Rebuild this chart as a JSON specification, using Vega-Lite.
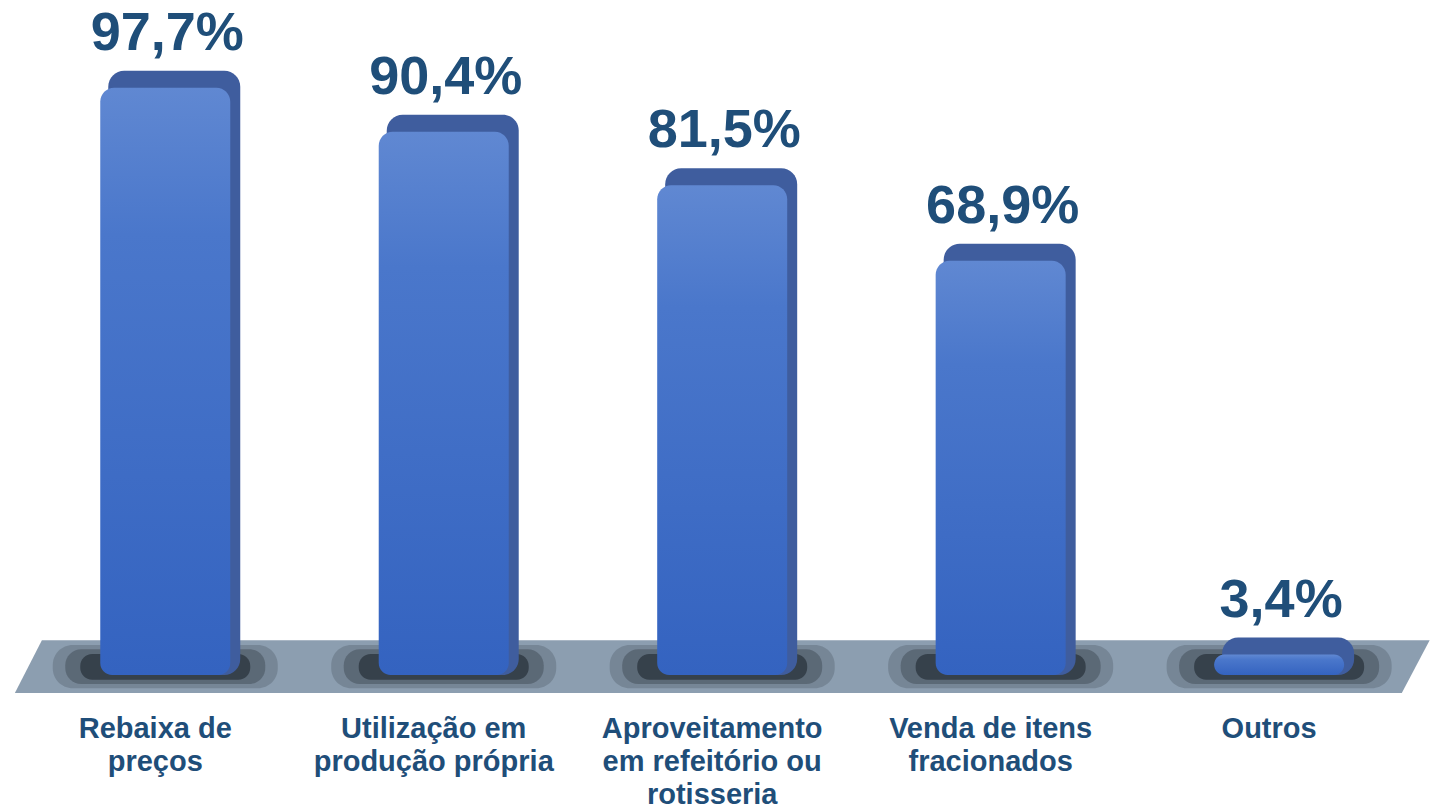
{
  "$schema": "https://vega.github.io/schema/vega-lite/v6.json",
  "width": 1433,
  "height": 700,
  "padding": 0,
  "autosize": {"type": "pad"},
  "background": "#ffffff",
  "config": {"view": {"stroke": null}, "font": "Liberation Sans"},
  "datasets": {
    "bars": [
      {"cat": "Rebaixa de|preços", "v": 97.7},
      {"cat": "Utilização em|produção própria", "v": 90.4},
      {"cat": "Aproveitamento|em refeitório ou|rotisseria", "v": 81.5},
      {"cat": "Venda de itens|fracionados", "v": 68.9},
      {"cat": "Outros", "v": 3.4}
    ],
    "floor": [
      {"u": -0.04, "lo": -3.0, "hi": -3.0},
      {"u": 0.057, "lo": -3.0, "hi": 5.8},
      {"u": 4.94, "lo": -3.0, "hi": 5.8},
      {"u": 5.04, "lo": 5.8, "hi": 5.8}
    ]
  },
  "layer": [
    {
      "data": {"name": "floor"},
      "mark": {"type": "area", "color": "#8c9eb0", "opacity": 1},
      "encoding": {
        "x": {"field": "u", "type": "quantitative", "scale": {"domain": [-0.0934, 5.052], "nice": false, "zero": false}, "axis": null},
        "y": {"field": "lo", "type": "quantitative", "scale": {"domain": [-4.16, 112.3], "nice": false, "zero": false}, "axis": null},
        "y2": {"field": "hi"}
      }
    },
    {
      "data": {"name": "bars"},
      "layer": [
        {
          "mark": {"type": "rect", "color": "#2a343c", "opacity": 0.22, "cornerRadius": 20, "width": 225},
          "encoding": {"y": {"datum": -2.2}, "y2": {"datum": 5.0}}
        },
        {
          "mark": {"type": "rect", "color": "#2a343c", "opacity": 0.35, "cornerRadius": 16, "width": 200},
          "encoding": {"y": {"datum": -1.5}, "y2": {"datum": 4.3}}
        },
        {
          "mark": {"type": "rect", "color": "#1e272e", "opacity": 0.6, "cornerRadius": 12, "width": 170},
          "encoding": {"y": {"datum": -0.8}, "y2": {"datum": 3.5}}
        },
        {
          "mark": {"type": "bar", "color": "#3f5d9e", "cornerRadius": 16, "size": 132, "xOffset": 9, "yOffset": -17},
          "encoding": {"y": {"field": "v", "type": "quantitative"}, "y2": {"datum": 0}}
        },
        {
          "mark": {"type": "bar", "size": 130, "cornerRadiusTopLeft": 14, "cornerRadiusTopRight": 14, "cornerRadiusBottomLeft": 12, "cornerRadiusBottomRight": 12,
            "color": {"gradient": "linear", "x1": 0, "y1": 0, "x2": 0, "y2": 1, "stops": [{"offset": 0, "color": "#6088d2"}, {"offset": 0.25, "color": "#4a77cb"}, {"offset": 1, "color": "#3463c0"}]}},
          "encoding": {"y": {"field": "v", "type": "quantitative"}, "y2": {"datum": 0}}
        },
        {
          "transform": [{"calculate": "replace(format(datum.v, '.1f'), '.', ',') + '%'", "as": "lbl"}],
          "mark": {"type": "text", "font": "Liberation Sans", "fontWeight": "bold", "fontSize": 54, "color": "#1f4e79", "baseline": "alphabetic", "dy": -38, "dx": 2},
          "encoding": {"y": {"field": "v", "type": "quantitative"}, "text": {"field": "lbl"}}
        }
      ],
      "encoding": {
        "x": {
          "field": "cat", "type": "nominal", "sort": null,
          "scale": {"paddingInner": 0, "paddingOuter": 0.073, "align": 0.64},
          "axis": {
            "title": null, "ticks": false, "domain": false, "labelAngle": 0,
            "labelExpr": "split(datum.label, '|')",
            "labelFont": "Liberation Sans", "labelFontWeight": "bold", "labelFontSize": 29,
            "labelColor": "#1f4e79", "labelLineHeight": 33, "labelPadding": 14, "labelLimit": 0, "labelBaseline": "top", "labelOffset": -10
          }
        }
      }
    }
  ],
  "resolve": {"scale": {"x": "independent"}}
}
